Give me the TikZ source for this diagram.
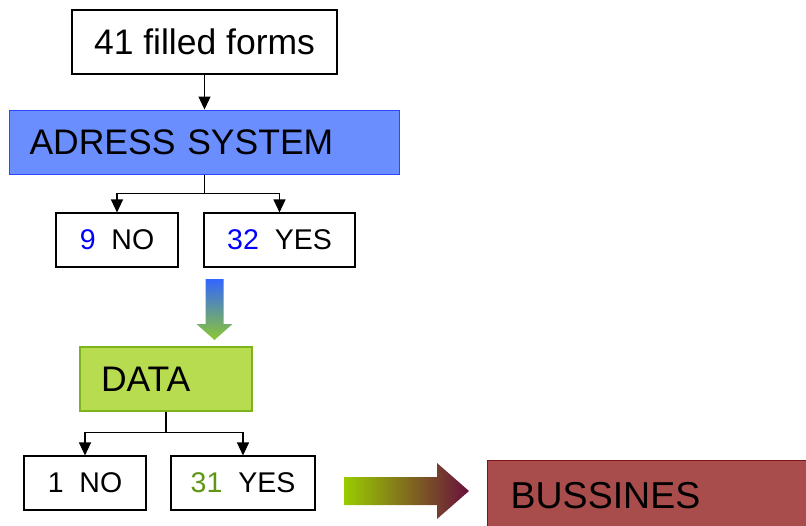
\documentclass[tikz,border=0pt]{standalone}
\usepackage{fontspec}
\setmainfont{Liberation Sans}
\usepackage{tikz}
\usetikzlibrary{positioning}
\usetikzlibrary{calc}
\usetikzlibrary{arrows.meta}
\definecolor{addrblue}{RGB}{107,142,255}
\definecolor{addrline}{RGB}{45,70,255}
\definecolor{datagreen}{RGB}{184,220,80}
\definecolor{dataline}{RGB}{125,180,30}
\definecolor{bussred}{RGB}{168,76,76}
\definecolor{bussline}{RGB}{128,20,20}
\definecolor{numblue}{RGB}{0,0,255}
\definecolor{numgreen}{RGB}{95,150,20}
\definecolor{arrowblue}{RGB}{51,102,255}
\definecolor{arrowgreen}{RGB}{140,200,50}
\definecolor{arrowlime}{RGB}{153,204,0}
\definecolor{arrowwine}{RGB}{105,15,60}
\tikzset{
  big/.style={font=\fontsize{35.5}{40}\selectfont},
  small/.style={font=\fontsize{28.5}{32}\selectfont},
  box/.style={draw, line width=1.1pt, fill=white, inner sep=0pt, text centered},
  answer/.style={box, small, minimum height=54pt},
  >={Triangle[length=13pt,width=12pt]}
}

\begin{document}
\begin{tikzpicture}[x=1pt, y=-1pt]
        \useasboundingbox (0,0) rectangle (806,525);
        % nodes %
        \node[box, big, minimum width=265pt, minimum height=64pt] (forms) at (204.5,42) {41 filled forms};
        \node[below=35pt of forms, draw=addrline, fill=addrblue, line width=1.3pt, big, inner ysep=0pt, inner xsep=20pt, text width=350pt, minimum height=64pt, align=left] (addr) {ADRESS SYSTEM};
        \node[answer, minimum width=122pt] (no1) at (117,240) {{\color{numblue}9}~~NO};
        \node[answer, minimum width=151pt] (yes1) at (279.5,240) {{\color{numblue}32}~~YES};
        \node[draw=dataline, fill=datagreen, line width=1.3pt, big, inner ysep=0pt, inner xsep=21pt, text width=130pt, minimum height=64pt, align=left] (data) at (166,379) {DATA};
        \node[answer, minimum width=122pt] (no2) at (85,483) {1~~NO};
        \node[answer, minimum width=144pt] (yes2) at (243,483) {{\color{numgreen}31}~~YES};
        \node[anchor=north west, draw=bussline, fill=bussred, line width=1.3pt, font=\fontsize{37.5}{42}\selectfont, inner ysep=0pt, inner xsep=23pt, text width=300pt, minimum height=70pt, align=left] (buss) at (487,460) {BUSSINES};
        % edges %
        \draw[->, line width=1.2pt] (forms) -- (addr);
        \draw[->, line width=1.2pt] (addr.south) -- ++(0,19) -| (no1.north);
        \draw[->, line width=1.2pt] (addr.south) -- ++(0,19) -| (yes1.north);
        \draw[->, line width=1.2pt] (data.south) -- ++(0,21) -| (no2.north);
        \draw[->, line width=1.2pt] (data.south) -- ++(0,21) -| (yes2.north);
        % block arrows %
        \shade[top color=arrowblue, bottom color=arrowgreen] (205.5,279) -- (223.5,279) -- (223.5,324) -- (232.5,324) -- (214.5,340) -- (196.5,324) -- (205.5,324) -- cycle;
        \shade[left color=arrowlime, right color=arrowwine] (344,477) -- (437,477) -- (437,463) -- (469,491) -- (437,519) -- (437,505) -- (344,505) -- cycle;
\end{tikzpicture}
\end{document}
